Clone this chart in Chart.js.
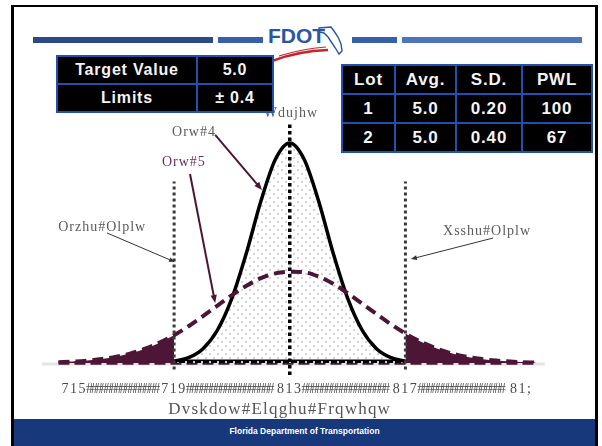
<!DOCTYPE html>
<html>
<head>
<meta charset="utf-8">
<script src="https://cdn.jsdelivr.net/npm/chart.js@4.4.1/dist/chart.umd.min.js"></script>
<style>
  html, body { margin: 0; padding: 0; background: #fff; }
  #slide { position: relative; width: 602px; height: 446px; overflow: hidden; background: #fff;
           font-family: "Liberation Sans", Arial, sans-serif; }
  #chart { position: absolute; left: 0; top: 0; }
  .frame { position: absolute; left: 11px; top: 5px; width: 587px; height: 470px;
           border: 3px solid #000; border-top-width: 2px; box-sizing: border-box; }
  .bar { position: absolute; top: 37px; height: 6px; }
  .footer { position: absolute; left: 14px; top: 419px; width: 581px; height: 27px; background: #17387a;
            color: #fff; font-weight: bold; font-size: 8.5px; text-align: center; line-height: 25px; }
  .tbl { position: absolute; border-collapse: collapse; background: #000; color: #f4f4f4;
         font-weight: bold; table-layout: fixed; }
  .tbl td { border: 2px solid #2150b0; text-align: center; padding: 0; white-space: nowrap; }
  #logo { position: absolute; left: 262px; top: 18px; }
</style>
</head>
<body>
<div id="slide">
  <canvas id="chart" width="602" height="446"></canvas>
  <div class="bar" style="left:33px;width:180px;background:#2c4b86"></div>
  <div class="bar" style="left:218px;width:45px;background:#3760a8"></div>
  <div class="bar" style="left:352px;width:45px;background:#3760a8"></div>
  <div class="bar" style="left:402px;width:180px;background:#5074ba"></div>
  <svg id="logo" width="90" height="50" viewBox="262 18 90 50">
    <rect x="266" y="22" width="82" height="26" fill="#fff"/>
    <path d="M319 28 L331 27 L334 31 L338 37 L341 44 L342 51 L339 54 L336 49 L332 43 L328 37 L324 33 L319 32 Z"
          fill="#fff" stroke="#2b55a3" stroke-width="1.4"/>
    <text x="268" y="43" font-family="Liberation Sans, Arial" font-weight="bold" font-size="21"
          fill="#2b55a3">FDOT</text>
    <path d="M272 61 Q298 51 328 50" fill="none" stroke="#c4262e" stroke-width="2.5"/>
    <path d="M279 56 Q301 49 326 47" fill="none" stroke="#c4262e" stroke-width="1.2"/>
  </svg>
  <table class="tbl" id="specTable" style="left:56px;top:55px;width:212px;height:58px;font-size:16px;letter-spacing:0.8px"></table>
  <table class="tbl" id="lotTable" style="left:341px;top:64px;width:242px;height:89px;font-size:17px;letter-spacing:0.8px"></table>
  <div class="frame"></div>
  <div class="footer">Florida Department of Transportation</div>
</div>
<script>
// Specification and lot summary
const targetValue = 5.0;
const limitTolerance = 0.4;
const lotNames = ['1', '2'];
const lotAverages = ['5.0', '5.0'];
const lotStdDevs = ['0.20', '0.40'];
const lotPWL = ['100', '67'];

// Asphalt binder content axis positions
const xValues = [4.20, 4.25, 4.30, 4.35, 4.40, 4.45, 4.50, 4.55, 4.60, 4.65, 4.70, 4.75,
                 4.80, 4.85, 4.90, 4.95, 5.00, 5.05, 5.10, 5.15, 5.20, 5.25, 5.30, 5.35,
                 5.40, 5.45, 5.50, 5.55, 5.60, 5.65, 5.70, 5.75, 5.80, 5.85];
// Lot 1 distribution (only drawn between the limits)
const lot1Density = [null, null, null, null, null, null, null, null,
                     0.015, 0.048, 0.13, 0.30, 0.59, 1.00, 1.47, 1.85, 2.00,
                     1.85, 1.47, 1.00, 0.59, 0.30, 0.13, 0.048, 0.015,
                     null, null, null, null, null, null, null, null, null];
// Lot 2 distribution
const lot2Density = [0.007, 0.013, 0.022, 0.036, 0.057, 0.088, 0.13, 0.185, 0.253, 0.334,
                     0.426, 0.522, 0.617, 0.702, 0.771, 0.815, 0.83, 0.825, 0.785, 0.72,
                     0.635, 0.54, 0.445, 0.352, 0.268, 0.197, 0.14, 0.095, 0.062, 0.04,
                     0.025, 0.015, 0.008, 0.004];

const xTickValues = [4.2, 4.6, 5.0, 5.4, 5.8];
const xTickLabels = ['715', '719', '813', '817', '81;'];
const xAxisTitle = 'Dvskdow#Elqghu#Frqwhqw';

const lowerLimit = +(targetValue - limitTolerance).toFixed(2);
const upperLimit = +(targetValue + limitTolerance).toFixed(2);

// ---- tables ----
function fillTable(id, rows, widths) {
  const t = document.getElementById(id);
  rows.forEach(r => {
    const tr = document.createElement('tr');
    r.forEach((c, i) => {
      const td = document.createElement('td');
      td.textContent = c;
      if (widths && widths[i]) td.style.width = widths[i] + 'px';
      tr.appendChild(td);
    });
    t.appendChild(tr);
  });
}
fillTable('specTable', [
  ['Target Value', targetValue.toFixed(1)],
  ['Limits', '\u00b1 ' + limitTolerance.toFixed(1)]
], [138, 74]);
fillTable('lotTable', [['Lot', 'Avg.', 'S.D.', 'PWL']].concat(
  lotNames.map((n, i) => [n, lotAverages[i], lotStdDevs[i], lotPWL[i]])
), [51, 59, 64, 68]);

// ---- chart ----
const MAROON = '#4d1636';
const pts = (ys) => xValues.map((x, i) => ({ x, y: ys[i] })).filter(p => p.y !== null);
const lot1Pts = pts(lot1Density);
const lot2Pts = pts(lot2Density);
const leftTail = lot2Pts.filter(p => p.x <= lowerLimit + 1e-9);
const rightTail = lot2Pts.filter(p => p.x >= upperLimit - 1e-9);

const dotCanvas = document.createElement('canvas');
dotCanvas.width = 8; dotCanvas.height = 8;
const dg = dotCanvas.getContext('2d');
dg.fillStyle = '#d4d4d4';
dg.fillRect(1, 1, 2, 2);
dg.fillRect(5, 5, 2, 2);
const dotPattern = dg.createPattern(dotCanvas, 'repeat');

// Annotation text and arrows, positioned in data units
const notes = [
  { text: 'Wdujhw', x: 5.004, y: 2.27, align: 'center', color: '#5a5a5a' },
  { text: 'Orw#4', x: 4.593, y: 2.10, align: 'left', color: '#5a5a5a',
    arrow: [4.742, 2.073, 4.904, 1.573], arrowColor: '#4d1636', lw: 2, head: 8 },
  { text: 'Orw#5', x: 4.558, y: 1.827, align: 'left', color: '#6b2f56',
    arrow: [4.655, 1.718, 4.742, 0.545], arrowColor: '#4d1636', lw: 2, head: 8 },
  { text: 'Orzhu#Olplw', x: 4.199, y: 1.236, align: 'left', color: '#5a5a5a',
    arrow: [4.368, 1.182, 4.603, 0.918], arrowColor: '#333', lw: 1, head: 6 },
  { text: 'Xsshu#Olplw', x: 5.530, y: 1.20, align: 'left', color: '#5a5a5a',
    arrow: [5.703, 1.136, 5.419, 0.945], arrowColor: '#333', lw: 1, head: 6 }
];

function drawArrow(ctx, x1, y1, x2, y2, color, lw, head) {
  const a = Math.atan2(y2 - y1, x2 - x1);
  ctx.save();
  ctx.strokeStyle = color; ctx.fillStyle = color; ctx.lineWidth = lw;
  ctx.beginPath();
  ctx.moveTo(x1, y1);
  ctx.lineTo(x2 - Math.cos(a) * head * 0.8, y2 - Math.sin(a) * head * 0.8);
  ctx.stroke();
  ctx.beginPath();
  ctx.moveTo(x2, y2);
  ctx.lineTo(x2 - head * Math.cos(a) + head * 0.4 * Math.sin(a), y2 - head * Math.sin(a) - head * 0.4 * Math.cos(a));
  ctx.lineTo(x2 - head * Math.cos(a) - head * 0.4 * Math.sin(a), y2 - head * Math.sin(a) + head * 0.4 * Math.cos(a));
  ctx.closePath();
  ctx.fill();
  ctx.restore();
}

const slidePlugin = {
  id: 'slideText',
  beforeDatasetsDraw(chart) {
    const { ctx, scales: { x, y } } = chart;
    // light axis base line
    ctx.save();
    ctx.strokeStyle = '#e4e4e4';
    ctx.lineWidth = 3;
    ctx.beginPath();
    ctx.moveTo(x.getPixelForValue(4.143), y.getPixelForValue(0) + 1);
    ctx.lineTo(x.getPixelForValue(5.882), y.getPixelForValue(0) + 1);
    ctx.stroke();
    ctx.restore();
  },
  afterDatasetsDraw(chart) {
    const { ctx, scales: { x, y } } = chart;
    ctx.save();
    ctx.textBaseline = 'middle';
    ctx.font = '14px "Liberation Serif"';
    ctx.letterSpacing = '1px';
    notes.forEach(n => {
      ctx.fillStyle = n.color;
      ctx.textAlign = n.align;
      ctx.fillText(n.text, x.getPixelForValue(n.x), y.getPixelForValue(n.y));
      if (n.arrow) {
        const [a, b, c, d] = n.arrow;
        drawArrow(ctx, x.getPixelForValue(a), y.getPixelForValue(b),
                  x.getPixelForValue(c), y.getPixelForValue(d), n.arrowColor, n.lw, n.head);
      }
    });
    // tick labels (first one starts at its tick), separated by runs of '#'
    const ty = y.getPixelForValue(0) + 26;
    ctx.font = '14px "Liberation Serif"';
    ctx.fillStyle = '#4a4a4a';
    const spans = xTickValues.map((v, i) => {
      ctx.letterSpacing = '1.5px';
      const px = x.getPixelForValue(v);
      const w = ctx.measureText(xTickLabels[i]).width;
      const left = i === 0 ? px + 3 : px - w / 2;
      ctx.textAlign = 'left';
      ctx.fillText(xTickLabels[i], left, ty);
      return [left, left + w];
    });
    ctx.letterSpacing = '0px';
    ctx.textAlign = 'left';
    for (let i = 0; i < spans.length - 1; i++) {
      const s = spans[i][1] - 1, e = spans[i + 1][0];
      for (let hx = s; hx <= e - 6.5; hx += 4.8) {
        ctx.fillText('#', hx, ty);
      }
    }
    // axis title
    ctx.font = '17px "Liberation Serif"';
    ctx.letterSpacing = '1.2px';
    ctx.textAlign = 'center';
    ctx.fillStyle = '#555';
    ctx.fillText(xAxisTitle, x.getPixelForValue(4.965), y.getPixelForValue(0) + 47);
    ctx.restore();
  }
};

new Chart(document.getElementById('chart'), {
  type: 'line',
  data: {
    datasets: [
      { label: 'Target', data: [{ x: targetValue, y: -0.11 }, { x: targetValue, y: 2.19 }],
        borderColor: '#000', borderWidth: 3.5, borderDash: [3.5, 3], clip: false, order: 0 },
      { label: 'Lower Limit', data: [{ x: lowerLimit, y: -0.06 }, { x: lowerLimit, y: 1.65 }],
        borderColor: '#3a3a3a', borderWidth: 3, borderDash: [3, 3], clip: false, order: 1 },
      { label: 'Upper Limit', data: [{ x: upperLimit, y: -0.06 }, { x: upperLimit, y: 1.65 }],
        borderColor: '#3a3a3a', borderWidth: 3, borderDash: [3, 3], clip: false, order: 1 },
      { label: 'Lot 2', data: lot2Pts, borderColor: MAROON, borderWidth: 4, borderDash: [11, 6],
        cubicInterpolationMode: 'monotone', fill: false, order: 2 },
      { label: 'Lot 1', data: lot1Pts, borderColor: '#000', borderWidth: 3.5,
        cubicInterpolationMode: 'monotone', fill: 'origin', backgroundColor: dotPattern, order: 3 },
      { label: 'Lot 1 base', data: [lot1Pts[0], lot1Pts[lot1Pts.length - 1]],
        borderColor: '#000', borderWidth: 3.5, order: 3 },
      { label: 'Lot 2 base', data: [{ x: lot2Pts[0].x, y: 0 }, { x: lot2Pts[lot2Pts.length - 1].x, y: 0 }],
        borderColor: MAROON, borderWidth: 3.5, borderDash: [11, 5], clip: false, order: 4 },
      { label: 'Lower tail', data: leftTail, borderWidth: 0, borderColor: 'rgba(0,0,0,0)',
        cubicInterpolationMode: 'monotone', fill: 'origin', backgroundColor: MAROON, order: 5 },
      { label: 'Upper tail', data: rightTail, borderWidth: 0, borderColor: 'rgba(0,0,0,0)',
        cubicInterpolationMode: 'monotone', fill: 'origin', backgroundColor: MAROON, order: 5 }
    ]
  },
  options: {
    responsive: false,
    animation: false,
    devicePixelRatio: 1,
    layout: { padding: { left: 44, right: 52, top: 99, bottom: 83 } },
    elements: { point: { radius: 0 }, line: { borderCapStyle: 'butt' } },
    scales: {
      x: { type: 'linear', min: 4.15, max: 5.9, display: false },
      y: { min: 0, max: 2.4, display: false }
    },
    plugins: { legend: { display: false }, tooltip: { enabled: false } }
  },
  plugins: [slidePlugin]
});
</script>
</body>
</html>
